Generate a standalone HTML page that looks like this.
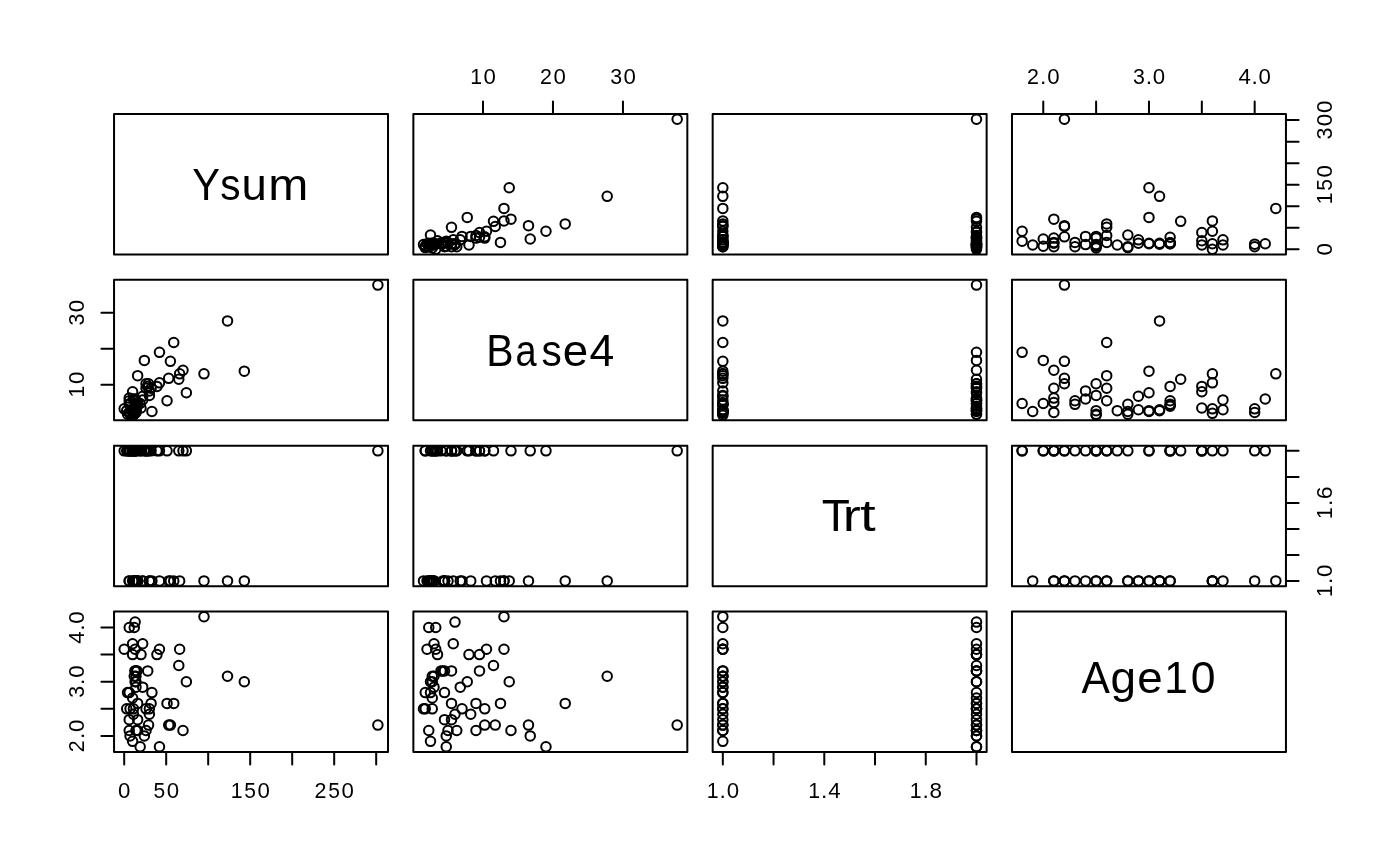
<!DOCTYPE html>
<html><head><meta charset="utf-8"><title>pairs</title>
<style>
html,body{margin:0;padding:0;background:#fff;width:1400px;height:866px;overflow:hidden}
svg{display:block;will-change:transform}
text{font-family:"Liberation Sans",sans-serif;fill:#000;font-kerning:none}
rect{fill:none;stroke:#000;stroke-width:2;stroke-linejoin:round}
.p{fill:none;stroke:#000;stroke-width:2}
.t{fill:none;stroke:#000;stroke-width:2;stroke-linecap:round}
</style></head><body>
<svg width="1400" height="866" viewBox="0 0 1400 866">
<rect x="114.05" y="114.05" width="273.97" height="140.47"/>
<rect x="413.36" y="114.05" width="273.97" height="140.47"/>
<rect x="712.67" y="114.05" width="273.97" height="140.47"/>
<rect x="1011.98" y="114.05" width="273.97" height="140.47"/>
<rect x="114.05" y="279.86" width="273.97" height="140.47"/>
<rect x="413.36" y="279.86" width="273.97" height="140.47"/>
<rect x="712.67" y="279.86" width="273.97" height="140.47"/>
<rect x="1011.98" y="279.86" width="273.97" height="140.47"/>
<rect x="114.05" y="445.67" width="273.97" height="140.47"/>
<rect x="413.36" y="445.67" width="273.97" height="140.47"/>
<rect x="712.67" y="445.67" width="273.97" height="140.47"/>
<rect x="1011.98" y="445.67" width="273.97" height="140.47"/>
<rect x="114.05" y="611.48" width="273.97" height="140.47"/>
<rect x="413.36" y="611.48" width="273.97" height="140.47"/>
<rect x="712.67" y="611.48" width="273.97" height="140.47"/>
<rect x="1011.98" y="611.48" width="273.97" height="140.47"/>
<g class="p"><circle cx="432.25" cy="243.28" r="4.752"/><circle cx="432.25" cy="243.28" r="4.752"/><circle cx="423.51" cy="244.58" r="4.752"/><circle cx="427.01" cy="243.71" r="4.752"/><circle cx="528.48" cy="225.63" r="4.752"/><circle cx="460.25" cy="239.84" r="4.752"/><circle cx="434" cy="244.15" r="4.752"/><circle cx="503.98" cy="208.4" r="4.752"/><circle cx="453.25" cy="239.84" r="4.752"/><circle cx="430.5" cy="235.1" r="4.752"/><circle cx="503.98" cy="220.89" r="4.752"/><circle cx="470.74" cy="236.39" r="4.752"/><circle cx="444.5" cy="242.42" r="4.752"/><circle cx="486.49" cy="231.23" r="4.752"/><circle cx="565.21" cy="223.9" r="4.752"/><circle cx="500.48" cy="242.42" r="4.752"/><circle cx="444.5" cy="246.73" r="4.752"/><circle cx="607.2" cy="196.34" r="4.752"/><circle cx="444.5" cy="242.85" r="4.752"/><circle cx="448" cy="242.42" r="4.752"/><circle cx="434" cy="243.28" r="4.752"/><circle cx="428.76" cy="243.28" r="4.752"/><circle cx="442.75" cy="243.71" r="4.752"/><circle cx="462" cy="236.39" r="4.752"/><circle cx="509.23" cy="187.73" r="4.752"/><circle cx="428.76" cy="246.73" r="4.752"/><circle cx="430.5" cy="245.01" r="4.752"/><circle cx="495.24" cy="226.49" r="4.752"/><circle cx="545.97" cy="231.23" r="4.752"/><circle cx="479.49" cy="237.25" r="4.752"/><circle cx="446.25" cy="246.3" r="4.752"/><circle cx="430.5" cy="243.71" r="4.752"/><circle cx="446.25" cy="241.13" r="4.752"/><circle cx="455" cy="244.58" r="4.752"/><circle cx="467.24" cy="217.44" r="4.752"/><circle cx="437.5" cy="240.7" r="4.752"/><circle cx="432.25" cy="245.01" r="4.752"/><circle cx="530.23" cy="238.98" r="4.752"/><circle cx="484.74" cy="236.82" r="4.752"/><circle cx="425.26" cy="247.59" r="4.752"/><circle cx="451.5" cy="246.73" r="4.752"/><circle cx="435.75" cy="244.15" r="4.752"/><circle cx="493.49" cy="221.32" r="4.752"/><circle cx="475.99" cy="238.12" r="4.752"/><circle cx="479.49" cy="232.52" r="4.752"/><circle cx="425.26" cy="246.3" r="4.752"/><circle cx="475.99" cy="235.53" r="4.752"/><circle cx="432.25" cy="248.02" r="4.752"/><circle cx="677.18" cy="119.25" r="4.752"/><circle cx="451.5" cy="243.71" r="4.752"/><circle cx="484.74" cy="238.12" r="4.752"/><circle cx="468.99" cy="245.01" r="4.752"/><circle cx="510.98" cy="219.17" r="4.752"/><circle cx="455" cy="243.71" r="4.752"/><circle cx="441" cy="242.85" r="4.752"/><circle cx="451.5" cy="227.35" r="4.752"/><circle cx="456.75" cy="246.73" r="4.752"/><circle cx="435.75" cy="249.31" r="4.752"/><circle cx="434" cy="245.01" r="4.752"/><circle cx="722.82" cy="243.28" r="4.752"/><circle cx="722.82" cy="243.28" r="4.752"/><circle cx="722.82" cy="244.58" r="4.752"/><circle cx="722.82" cy="243.71" r="4.752"/><circle cx="722.82" cy="225.63" r="4.752"/><circle cx="722.82" cy="239.84" r="4.752"/><circle cx="722.82" cy="244.15" r="4.752"/><circle cx="722.82" cy="208.4" r="4.752"/><circle cx="722.82" cy="239.84" r="4.752"/><circle cx="722.82" cy="235.1" r="4.752"/><circle cx="722.82" cy="220.89" r="4.752"/><circle cx="722.82" cy="236.39" r="4.752"/><circle cx="722.82" cy="242.42" r="4.752"/><circle cx="722.82" cy="231.23" r="4.752"/><circle cx="722.82" cy="223.9" r="4.752"/><circle cx="722.82" cy="242.42" r="4.752"/><circle cx="722.82" cy="246.73" r="4.752"/><circle cx="722.82" cy="196.34" r="4.752"/><circle cx="722.82" cy="242.85" r="4.752"/><circle cx="722.82" cy="242.42" r="4.752"/><circle cx="722.82" cy="243.28" r="4.752"/><circle cx="722.82" cy="243.28" r="4.752"/><circle cx="722.82" cy="243.71" r="4.752"/><circle cx="722.82" cy="236.39" r="4.752"/><circle cx="722.82" cy="187.73" r="4.752"/><circle cx="722.82" cy="246.73" r="4.752"/><circle cx="722.82" cy="245.01" r="4.752"/><circle cx="722.82" cy="226.49" r="4.752"/><circle cx="976.49" cy="231.23" r="4.752"/><circle cx="976.49" cy="237.25" r="4.752"/><circle cx="976.49" cy="246.3" r="4.752"/><circle cx="976.49" cy="243.71" r="4.752"/><circle cx="976.49" cy="241.13" r="4.752"/><circle cx="976.49" cy="244.58" r="4.752"/><circle cx="976.49" cy="217.44" r="4.752"/><circle cx="976.49" cy="240.7" r="4.752"/><circle cx="976.49" cy="245.01" r="4.752"/><circle cx="976.49" cy="238.98" r="4.752"/><circle cx="976.49" cy="236.82" r="4.752"/><circle cx="976.49" cy="247.59" r="4.752"/><circle cx="976.49" cy="246.73" r="4.752"/><circle cx="976.49" cy="244.15" r="4.752"/><circle cx="976.49" cy="221.32" r="4.752"/><circle cx="976.49" cy="238.12" r="4.752"/><circle cx="976.49" cy="232.52" r="4.752"/><circle cx="976.49" cy="246.3" r="4.752"/><circle cx="976.49" cy="235.53" r="4.752"/><circle cx="976.49" cy="248.02" r="4.752"/><circle cx="976.49" cy="119.25" r="4.752"/><circle cx="976.49" cy="243.71" r="4.752"/><circle cx="976.49" cy="238.12" r="4.752"/><circle cx="976.49" cy="245.01" r="4.752"/><circle cx="976.49" cy="219.17" r="4.752"/><circle cx="976.49" cy="243.71" r="4.752"/><circle cx="976.49" cy="242.85" r="4.752"/><circle cx="976.49" cy="227.35" r="4.752"/><circle cx="976.49" cy="246.73" r="4.752"/><circle cx="976.49" cy="249.31" r="4.752"/><circle cx="976.49" cy="245.01" r="4.752"/><circle cx="1159.54" cy="243.28" r="4.752"/><circle cx="1148.97" cy="243.28" r="4.752"/><circle cx="1096.12" cy="244.58" r="4.752"/><circle cx="1212.39" cy="243.71" r="4.752"/><circle cx="1064.41" cy="225.63" r="4.752"/><circle cx="1138.4" cy="239.84" r="4.752"/><circle cx="1159.54" cy="244.15" r="4.752"/><circle cx="1275.81" cy="208.4" r="4.752"/><circle cx="1222.96" cy="239.84" r="4.752"/><circle cx="1127.83" cy="235.1" r="4.752"/><circle cx="1212.39" cy="220.89" r="4.752"/><circle cx="1085.55" cy="236.39" r="4.752"/><circle cx="1074.98" cy="242.42" r="4.752"/><circle cx="1212.39" cy="231.23" r="4.752"/><circle cx="1106.69" cy="223.9" r="4.752"/><circle cx="1106.69" cy="242.42" r="4.752"/><circle cx="1127.83" cy="246.73" r="4.752"/><circle cx="1159.54" cy="196.34" r="4.752"/><circle cx="1170.11" cy="242.85" r="4.752"/><circle cx="1053.84" cy="242.42" r="4.752"/><circle cx="1138.4" cy="243.28" r="4.752"/><circle cx="1053.84" cy="243.28" r="4.752"/><circle cx="1170.11" cy="243.71" r="4.752"/><circle cx="1096.12" cy="236.39" r="4.752"/><circle cx="1148.97" cy="187.73" r="4.752"/><circle cx="1254.67" cy="246.73" r="4.752"/><circle cx="1032.7" cy="245.01" r="4.752"/><circle cx="1064.41" cy="226.49" r="4.752"/><circle cx="1022.13" cy="231.23" r="4.752"/><circle cx="1170.11" cy="237.25" r="4.752"/><circle cx="1043.27" cy="246.3" r="4.752"/><circle cx="1148.97" cy="243.71" r="4.752"/><circle cx="1022.13" cy="241.13" r="4.752"/><circle cx="1085.55" cy="244.58" r="4.752"/><circle cx="1148.97" cy="217.44" r="4.752"/><circle cx="1201.82" cy="240.7" r="4.752"/><circle cx="1117.26" cy="245.01" r="4.752"/><circle cx="1043.27" cy="238.98" r="4.752"/><circle cx="1064.41" cy="236.82" r="4.752"/><circle cx="1127.83" cy="247.59" r="4.752"/><circle cx="1074.98" cy="246.73" r="4.752"/><circle cx="1254.67" cy="244.15" r="4.752"/><circle cx="1180.68" cy="221.32" r="4.752"/><circle cx="1053.84" cy="238.12" r="4.752"/><circle cx="1201.82" cy="232.52" r="4.752"/><circle cx="1096.12" cy="246.3" r="4.752"/><circle cx="1106.69" cy="235.53" r="4.752"/><circle cx="1096.12" cy="248.02" r="4.752"/><circle cx="1064.41" cy="119.25" r="4.752"/><circle cx="1170.11" cy="243.71" r="4.752"/><circle cx="1096.12" cy="238.12" r="4.752"/><circle cx="1201.82" cy="245.01" r="4.752"/><circle cx="1053.84" cy="219.17" r="4.752"/><circle cx="1265.24" cy="243.71" r="4.752"/><circle cx="1170.11" cy="242.85" r="4.752"/><circle cx="1106.69" cy="227.35" r="4.752"/><circle cx="1053.84" cy="246.73" r="4.752"/><circle cx="1212.39" cy="249.31" r="4.752"/><circle cx="1222.96" cy="245.01" r="4.752"/><circle cx="135.95" cy="410.64" r="4.752"/><circle cx="135.95" cy="410.64" r="4.752"/><circle cx="133.43" cy="415.13" r="4.752"/><circle cx="135.11" cy="413.33" r="4.752"/><circle cx="170.39" cy="361.31" r="4.752"/><circle cx="142.67" cy="396.29" r="4.752"/><circle cx="134.27" cy="409.74" r="4.752"/><circle cx="203.99" cy="373.86" r="4.752"/><circle cx="142.67" cy="399.88" r="4.752"/><circle cx="151.91" cy="411.54" r="4.752"/><circle cx="179.63" cy="373.86" r="4.752"/><circle cx="149.39" cy="390.91" r="4.752"/><circle cx="137.63" cy="404.36" r="4.752"/><circle cx="159.47" cy="382.83" r="4.752"/><circle cx="173.75" cy="342.47" r="4.752"/><circle cx="137.63" cy="375.66" r="4.752"/><circle cx="129.23" cy="404.36" r="4.752"/><circle cx="227.51" cy="320.94" r="4.752"/><circle cx="136.79" cy="404.36" r="4.752"/><circle cx="137.63" cy="402.57" r="4.752"/><circle cx="135.95" cy="409.74" r="4.752"/><circle cx="135.95" cy="412.43" r="4.752"/><circle cx="135.11" cy="405.26" r="4.752"/><circle cx="149.39" cy="395.39" r="4.752"/><circle cx="244.31" cy="371.17" r="4.752"/><circle cx="129.23" cy="412.43" r="4.752"/><circle cx="132.59" cy="411.54" r="4.752"/><circle cx="168.71" cy="378.35" r="4.752"/><circle cx="159.47" cy="352.34" r="4.752"/><circle cx="147.71" cy="386.42" r="4.752"/><circle cx="130.07" cy="403.46" r="4.752"/><circle cx="135.11" cy="411.54" r="4.752"/><circle cx="140.15" cy="403.46" r="4.752"/><circle cx="133.43" cy="398.98" r="4.752"/><circle cx="186.35" cy="392.7" r="4.752"/><circle cx="140.99" cy="407.95" r="4.752"/><circle cx="132.59" cy="410.64" r="4.752"/><circle cx="144.35" cy="360.41" r="4.752"/><circle cx="148.55" cy="383.73" r="4.752"/><circle cx="127.55" cy="414.23" r="4.752"/><circle cx="129.23" cy="400.77" r="4.752"/><circle cx="134.27" cy="408.85" r="4.752"/><circle cx="178.79" cy="379.25" r="4.752"/><circle cx="146.03" cy="388.22" r="4.752"/><circle cx="156.95" cy="386.42" r="4.752"/><circle cx="130.07" cy="414.23" r="4.752"/><circle cx="151.07" cy="388.22" r="4.752"/><circle cx="126.71" cy="410.64" r="4.752"/><circle cx="377.87" cy="285.06" r="4.752"/><circle cx="135.11" cy="400.77" r="4.752"/><circle cx="146.03" cy="383.73" r="4.752"/><circle cx="132.59" cy="391.8" r="4.752"/><circle cx="182.99" cy="370.28" r="4.752"/><circle cx="135.11" cy="398.98" r="4.752"/><circle cx="136.79" cy="406.16" r="4.752"/><circle cx="167.03" cy="400.77" r="4.752"/><circle cx="129.23" cy="398.08" r="4.752"/><circle cx="124.19" cy="408.85" r="4.752"/><circle cx="132.59" cy="409.74" r="4.752"/><circle cx="722.82" cy="410.64" r="4.752"/><circle cx="722.82" cy="410.64" r="4.752"/><circle cx="722.82" cy="415.13" r="4.752"/><circle cx="722.82" cy="413.33" r="4.752"/><circle cx="722.82" cy="361.31" r="4.752"/><circle cx="722.82" cy="396.29" r="4.752"/><circle cx="722.82" cy="409.74" r="4.752"/><circle cx="722.82" cy="373.86" r="4.752"/><circle cx="722.82" cy="399.88" r="4.752"/><circle cx="722.82" cy="411.54" r="4.752"/><circle cx="722.82" cy="373.86" r="4.752"/><circle cx="722.82" cy="390.91" r="4.752"/><circle cx="722.82" cy="404.36" r="4.752"/><circle cx="722.82" cy="382.83" r="4.752"/><circle cx="722.82" cy="342.47" r="4.752"/><circle cx="722.82" cy="375.66" r="4.752"/><circle cx="722.82" cy="404.36" r="4.752"/><circle cx="722.82" cy="320.94" r="4.752"/><circle cx="722.82" cy="404.36" r="4.752"/><circle cx="722.82" cy="402.57" r="4.752"/><circle cx="722.82" cy="409.74" r="4.752"/><circle cx="722.82" cy="412.43" r="4.752"/><circle cx="722.82" cy="405.26" r="4.752"/><circle cx="722.82" cy="395.39" r="4.752"/><circle cx="722.82" cy="371.17" r="4.752"/><circle cx="722.82" cy="412.43" r="4.752"/><circle cx="722.82" cy="411.54" r="4.752"/><circle cx="722.82" cy="378.35" r="4.752"/><circle cx="976.49" cy="352.34" r="4.752"/><circle cx="976.49" cy="386.42" r="4.752"/><circle cx="976.49" cy="403.46" r="4.752"/><circle cx="976.49" cy="411.54" r="4.752"/><circle cx="976.49" cy="403.46" r="4.752"/><circle cx="976.49" cy="398.98" r="4.752"/><circle cx="976.49" cy="392.7" r="4.752"/><circle cx="976.49" cy="407.95" r="4.752"/><circle cx="976.49" cy="410.64" r="4.752"/><circle cx="976.49" cy="360.41" r="4.752"/><circle cx="976.49" cy="383.73" r="4.752"/><circle cx="976.49" cy="414.23" r="4.752"/><circle cx="976.49" cy="400.77" r="4.752"/><circle cx="976.49" cy="408.85" r="4.752"/><circle cx="976.49" cy="379.25" r="4.752"/><circle cx="976.49" cy="388.22" r="4.752"/><circle cx="976.49" cy="386.42" r="4.752"/><circle cx="976.49" cy="414.23" r="4.752"/><circle cx="976.49" cy="388.22" r="4.752"/><circle cx="976.49" cy="410.64" r="4.752"/><circle cx="976.49" cy="285.06" r="4.752"/><circle cx="976.49" cy="400.77" r="4.752"/><circle cx="976.49" cy="383.73" r="4.752"/><circle cx="976.49" cy="391.8" r="4.752"/><circle cx="976.49" cy="370.28" r="4.752"/><circle cx="976.49" cy="398.98" r="4.752"/><circle cx="976.49" cy="406.16" r="4.752"/><circle cx="976.49" cy="400.77" r="4.752"/><circle cx="976.49" cy="398.08" r="4.752"/><circle cx="976.49" cy="408.85" r="4.752"/><circle cx="976.49" cy="409.74" r="4.752"/><circle cx="1159.54" cy="410.64" r="4.752"/><circle cx="1148.97" cy="410.64" r="4.752"/><circle cx="1096.12" cy="415.13" r="4.752"/><circle cx="1212.39" cy="413.33" r="4.752"/><circle cx="1064.41" cy="361.31" r="4.752"/><circle cx="1138.4" cy="396.29" r="4.752"/><circle cx="1159.54" cy="409.74" r="4.752"/><circle cx="1275.81" cy="373.86" r="4.752"/><circle cx="1222.96" cy="399.88" r="4.752"/><circle cx="1127.83" cy="411.54" r="4.752"/><circle cx="1212.39" cy="373.86" r="4.752"/><circle cx="1085.55" cy="390.91" r="4.752"/><circle cx="1074.98" cy="404.36" r="4.752"/><circle cx="1212.39" cy="382.83" r="4.752"/><circle cx="1106.69" cy="342.47" r="4.752"/><circle cx="1106.69" cy="375.66" r="4.752"/><circle cx="1127.83" cy="404.36" r="4.752"/><circle cx="1159.54" cy="320.94" r="4.752"/><circle cx="1170.11" cy="404.36" r="4.752"/><circle cx="1053.84" cy="402.57" r="4.752"/><circle cx="1138.4" cy="409.74" r="4.752"/><circle cx="1053.84" cy="412.43" r="4.752"/><circle cx="1170.11" cy="405.26" r="4.752"/><circle cx="1096.12" cy="395.39" r="4.752"/><circle cx="1148.97" cy="371.17" r="4.752"/><circle cx="1254.67" cy="412.43" r="4.752"/><circle cx="1032.7" cy="411.54" r="4.752"/><circle cx="1064.41" cy="378.35" r="4.752"/><circle cx="1022.13" cy="352.34" r="4.752"/><circle cx="1170.11" cy="386.42" r="4.752"/><circle cx="1043.27" cy="403.46" r="4.752"/><circle cx="1148.97" cy="411.54" r="4.752"/><circle cx="1022.13" cy="403.46" r="4.752"/><circle cx="1085.55" cy="398.98" r="4.752"/><circle cx="1148.97" cy="392.7" r="4.752"/><circle cx="1201.82" cy="407.95" r="4.752"/><circle cx="1117.26" cy="410.64" r="4.752"/><circle cx="1043.27" cy="360.41" r="4.752"/><circle cx="1064.41" cy="383.73" r="4.752"/><circle cx="1127.83" cy="414.23" r="4.752"/><circle cx="1074.98" cy="400.77" r="4.752"/><circle cx="1254.67" cy="408.85" r="4.752"/><circle cx="1180.68" cy="379.25" r="4.752"/><circle cx="1053.84" cy="388.22" r="4.752"/><circle cx="1201.82" cy="386.42" r="4.752"/><circle cx="1096.12" cy="414.23" r="4.752"/><circle cx="1106.69" cy="388.22" r="4.752"/><circle cx="1096.12" cy="410.64" r="4.752"/><circle cx="1064.41" cy="285.06" r="4.752"/><circle cx="1170.11" cy="400.77" r="4.752"/><circle cx="1096.12" cy="383.73" r="4.752"/><circle cx="1201.82" cy="391.8" r="4.752"/><circle cx="1053.84" cy="370.28" r="4.752"/><circle cx="1265.24" cy="398.98" r="4.752"/><circle cx="1170.11" cy="406.16" r="4.752"/><circle cx="1106.69" cy="400.77" r="4.752"/><circle cx="1053.84" cy="398.08" r="4.752"/><circle cx="1212.39" cy="408.85" r="4.752"/><circle cx="1222.96" cy="409.74" r="4.752"/><circle cx="135.95" cy="580.94" r="4.752"/><circle cx="135.95" cy="580.94" r="4.752"/><circle cx="133.43" cy="580.94" r="4.752"/><circle cx="135.11" cy="580.94" r="4.752"/><circle cx="170.39" cy="580.94" r="4.752"/><circle cx="142.67" cy="580.94" r="4.752"/><circle cx="134.27" cy="580.94" r="4.752"/><circle cx="203.99" cy="580.94" r="4.752"/><circle cx="142.67" cy="580.94" r="4.752"/><circle cx="151.91" cy="580.94" r="4.752"/><circle cx="179.63" cy="580.94" r="4.752"/><circle cx="149.39" cy="580.94" r="4.752"/><circle cx="137.63" cy="580.94" r="4.752"/><circle cx="159.47" cy="580.94" r="4.752"/><circle cx="173.75" cy="580.94" r="4.752"/><circle cx="137.63" cy="580.94" r="4.752"/><circle cx="129.23" cy="580.94" r="4.752"/><circle cx="227.51" cy="580.94" r="4.752"/><circle cx="136.79" cy="580.94" r="4.752"/><circle cx="137.63" cy="580.94" r="4.752"/><circle cx="135.95" cy="580.94" r="4.752"/><circle cx="135.95" cy="580.94" r="4.752"/><circle cx="135.11" cy="580.94" r="4.752"/><circle cx="149.39" cy="580.94" r="4.752"/><circle cx="244.31" cy="580.94" r="4.752"/><circle cx="129.23" cy="580.94" r="4.752"/><circle cx="132.59" cy="580.94" r="4.752"/><circle cx="168.71" cy="580.94" r="4.752"/><circle cx="159.47" cy="450.87" r="4.752"/><circle cx="147.71" cy="450.87" r="4.752"/><circle cx="130.07" cy="450.87" r="4.752"/><circle cx="135.11" cy="450.87" r="4.752"/><circle cx="140.15" cy="450.87" r="4.752"/><circle cx="133.43" cy="450.87" r="4.752"/><circle cx="186.35" cy="450.87" r="4.752"/><circle cx="140.99" cy="450.87" r="4.752"/><circle cx="132.59" cy="450.87" r="4.752"/><circle cx="144.35" cy="450.87" r="4.752"/><circle cx="148.55" cy="450.87" r="4.752"/><circle cx="127.55" cy="450.87" r="4.752"/><circle cx="129.23" cy="450.87" r="4.752"/><circle cx="134.27" cy="450.87" r="4.752"/><circle cx="178.79" cy="450.87" r="4.752"/><circle cx="146.03" cy="450.87" r="4.752"/><circle cx="156.95" cy="450.87" r="4.752"/><circle cx="130.07" cy="450.87" r="4.752"/><circle cx="151.07" cy="450.87" r="4.752"/><circle cx="126.71" cy="450.87" r="4.752"/><circle cx="377.87" cy="450.87" r="4.752"/><circle cx="135.11" cy="450.87" r="4.752"/><circle cx="146.03" cy="450.87" r="4.752"/><circle cx="132.59" cy="450.87" r="4.752"/><circle cx="182.99" cy="450.87" r="4.752"/><circle cx="135.11" cy="450.87" r="4.752"/><circle cx="136.79" cy="450.87" r="4.752"/><circle cx="167.03" cy="450.87" r="4.752"/><circle cx="129.23" cy="450.87" r="4.752"/><circle cx="124.19" cy="450.87" r="4.752"/><circle cx="132.59" cy="450.87" r="4.752"/><circle cx="432.25" cy="580.94" r="4.752"/><circle cx="432.25" cy="580.94" r="4.752"/><circle cx="423.51" cy="580.94" r="4.752"/><circle cx="427.01" cy="580.94" r="4.752"/><circle cx="528.48" cy="580.94" r="4.752"/><circle cx="460.25" cy="580.94" r="4.752"/><circle cx="434" cy="580.94" r="4.752"/><circle cx="503.98" cy="580.94" r="4.752"/><circle cx="453.25" cy="580.94" r="4.752"/><circle cx="430.5" cy="580.94" r="4.752"/><circle cx="503.98" cy="580.94" r="4.752"/><circle cx="470.74" cy="580.94" r="4.752"/><circle cx="444.5" cy="580.94" r="4.752"/><circle cx="486.49" cy="580.94" r="4.752"/><circle cx="565.21" cy="580.94" r="4.752"/><circle cx="500.48" cy="580.94" r="4.752"/><circle cx="444.5" cy="580.94" r="4.752"/><circle cx="607.2" cy="580.94" r="4.752"/><circle cx="444.5" cy="580.94" r="4.752"/><circle cx="448" cy="580.94" r="4.752"/><circle cx="434" cy="580.94" r="4.752"/><circle cx="428.76" cy="580.94" r="4.752"/><circle cx="442.75" cy="580.94" r="4.752"/><circle cx="462" cy="580.94" r="4.752"/><circle cx="509.23" cy="580.94" r="4.752"/><circle cx="428.76" cy="580.94" r="4.752"/><circle cx="430.5" cy="580.94" r="4.752"/><circle cx="495.24" cy="580.94" r="4.752"/><circle cx="545.97" cy="450.87" r="4.752"/><circle cx="479.49" cy="450.87" r="4.752"/><circle cx="446.25" cy="450.87" r="4.752"/><circle cx="430.5" cy="450.87" r="4.752"/><circle cx="446.25" cy="450.87" r="4.752"/><circle cx="455" cy="450.87" r="4.752"/><circle cx="467.24" cy="450.87" r="4.752"/><circle cx="437.5" cy="450.87" r="4.752"/><circle cx="432.25" cy="450.87" r="4.752"/><circle cx="530.23" cy="450.87" r="4.752"/><circle cx="484.74" cy="450.87" r="4.752"/><circle cx="425.26" cy="450.87" r="4.752"/><circle cx="451.5" cy="450.87" r="4.752"/><circle cx="435.75" cy="450.87" r="4.752"/><circle cx="493.49" cy="450.87" r="4.752"/><circle cx="475.99" cy="450.87" r="4.752"/><circle cx="479.49" cy="450.87" r="4.752"/><circle cx="425.26" cy="450.87" r="4.752"/><circle cx="475.99" cy="450.87" r="4.752"/><circle cx="432.25" cy="450.87" r="4.752"/><circle cx="677.18" cy="450.87" r="4.752"/><circle cx="451.5" cy="450.87" r="4.752"/><circle cx="484.74" cy="450.87" r="4.752"/><circle cx="468.99" cy="450.87" r="4.752"/><circle cx="510.98" cy="450.87" r="4.752"/><circle cx="455" cy="450.87" r="4.752"/><circle cx="441" cy="450.87" r="4.752"/><circle cx="451.5" cy="450.87" r="4.752"/><circle cx="456.75" cy="450.87" r="4.752"/><circle cx="435.75" cy="450.87" r="4.752"/><circle cx="434" cy="450.87" r="4.752"/><circle cx="1159.54" cy="580.94" r="4.752"/><circle cx="1148.97" cy="580.94" r="4.752"/><circle cx="1096.12" cy="580.94" r="4.752"/><circle cx="1212.39" cy="580.94" r="4.752"/><circle cx="1064.41" cy="580.94" r="4.752"/><circle cx="1138.4" cy="580.94" r="4.752"/><circle cx="1159.54" cy="580.94" r="4.752"/><circle cx="1275.81" cy="580.94" r="4.752"/><circle cx="1222.96" cy="580.94" r="4.752"/><circle cx="1127.83" cy="580.94" r="4.752"/><circle cx="1212.39" cy="580.94" r="4.752"/><circle cx="1085.55" cy="580.94" r="4.752"/><circle cx="1074.98" cy="580.94" r="4.752"/><circle cx="1212.39" cy="580.94" r="4.752"/><circle cx="1106.69" cy="580.94" r="4.752"/><circle cx="1106.69" cy="580.94" r="4.752"/><circle cx="1127.83" cy="580.94" r="4.752"/><circle cx="1159.54" cy="580.94" r="4.752"/><circle cx="1170.11" cy="580.94" r="4.752"/><circle cx="1053.84" cy="580.94" r="4.752"/><circle cx="1138.4" cy="580.94" r="4.752"/><circle cx="1053.84" cy="580.94" r="4.752"/><circle cx="1170.11" cy="580.94" r="4.752"/><circle cx="1096.12" cy="580.94" r="4.752"/><circle cx="1148.97" cy="580.94" r="4.752"/><circle cx="1254.67" cy="580.94" r="4.752"/><circle cx="1032.7" cy="580.94" r="4.752"/><circle cx="1064.41" cy="580.94" r="4.752"/><circle cx="1022.13" cy="450.87" r="4.752"/><circle cx="1170.11" cy="450.87" r="4.752"/><circle cx="1043.27" cy="450.87" r="4.752"/><circle cx="1148.97" cy="450.87" r="4.752"/><circle cx="1022.13" cy="450.87" r="4.752"/><circle cx="1085.55" cy="450.87" r="4.752"/><circle cx="1148.97" cy="450.87" r="4.752"/><circle cx="1201.82" cy="450.87" r="4.752"/><circle cx="1117.26" cy="450.87" r="4.752"/><circle cx="1043.27" cy="450.87" r="4.752"/><circle cx="1064.41" cy="450.87" r="4.752"/><circle cx="1127.83" cy="450.87" r="4.752"/><circle cx="1074.98" cy="450.87" r="4.752"/><circle cx="1254.67" cy="450.87" r="4.752"/><circle cx="1180.68" cy="450.87" r="4.752"/><circle cx="1053.84" cy="450.87" r="4.752"/><circle cx="1201.82" cy="450.87" r="4.752"/><circle cx="1096.12" cy="450.87" r="4.752"/><circle cx="1106.69" cy="450.87" r="4.752"/><circle cx="1096.12" cy="450.87" r="4.752"/><circle cx="1064.41" cy="450.87" r="4.752"/><circle cx="1170.11" cy="450.87" r="4.752"/><circle cx="1096.12" cy="450.87" r="4.752"/><circle cx="1201.82" cy="450.87" r="4.752"/><circle cx="1053.84" cy="450.87" r="4.752"/><circle cx="1265.24" cy="450.87" r="4.752"/><circle cx="1170.11" cy="450.87" r="4.752"/><circle cx="1106.69" cy="450.87" r="4.752"/><circle cx="1053.84" cy="450.87" r="4.752"/><circle cx="1212.39" cy="450.87" r="4.752"/><circle cx="1222.96" cy="450.87" r="4.752"/><circle cx="135.95" cy="676.3" r="4.752"/><circle cx="135.95" cy="681.72" r="4.752"/><circle cx="133.43" cy="708.81" r="4.752"/><circle cx="135.11" cy="649.2" r="4.752"/><circle cx="170.39" cy="725.07" r="4.752"/><circle cx="142.67" cy="687.14" r="4.752"/><circle cx="134.27" cy="676.3" r="4.752"/><circle cx="203.99" cy="616.69" r="4.752"/><circle cx="142.67" cy="643.78" r="4.752"/><circle cx="151.91" cy="692.56" r="4.752"/><circle cx="179.63" cy="649.2" r="4.752"/><circle cx="149.39" cy="714.23" r="4.752"/><circle cx="137.63" cy="719.65" r="4.752"/><circle cx="159.47" cy="649.2" r="4.752"/><circle cx="173.75" cy="703.4" r="4.752"/><circle cx="137.63" cy="703.4" r="4.752"/><circle cx="129.23" cy="692.56" r="4.752"/><circle cx="227.51" cy="676.3" r="4.752"/><circle cx="136.79" cy="670.88" r="4.752"/><circle cx="137.63" cy="730.49" r="4.752"/><circle cx="135.95" cy="687.14" r="4.752"/><circle cx="135.95" cy="730.49" r="4.752"/><circle cx="135.11" cy="670.88" r="4.752"/><circle cx="149.39" cy="708.81" r="4.752"/><circle cx="244.31" cy="681.72" r="4.752"/><circle cx="129.23" cy="627.53" r="4.752"/><circle cx="132.59" cy="741.33" r="4.752"/><circle cx="168.71" cy="725.07" r="4.752"/><circle cx="159.47" cy="746.75" r="4.752"/><circle cx="147.71" cy="670.88" r="4.752"/><circle cx="130.07" cy="735.91" r="4.752"/><circle cx="135.11" cy="681.72" r="4.752"/><circle cx="140.15" cy="746.75" r="4.752"/><circle cx="133.43" cy="714.23" r="4.752"/><circle cx="186.35" cy="681.72" r="4.752"/><circle cx="140.99" cy="654.62" r="4.752"/><circle cx="132.59" cy="697.98" r="4.752"/><circle cx="144.35" cy="735.91" r="4.752"/><circle cx="148.55" cy="725.07" r="4.752"/><circle cx="127.55" cy="692.56" r="4.752"/><circle cx="129.23" cy="719.65" r="4.752"/><circle cx="134.27" cy="627.53" r="4.752"/><circle cx="178.79" cy="665.46" r="4.752"/><circle cx="146.03" cy="730.49" r="4.752"/><circle cx="156.95" cy="654.62" r="4.752"/><circle cx="130.07" cy="708.81" r="4.752"/><circle cx="151.07" cy="703.4" r="4.752"/><circle cx="126.71" cy="708.81" r="4.752"/><circle cx="377.87" cy="725.07" r="4.752"/><circle cx="135.11" cy="670.88" r="4.752"/><circle cx="146.03" cy="708.81" r="4.752"/><circle cx="132.59" cy="654.62" r="4.752"/><circle cx="182.99" cy="730.49" r="4.752"/><circle cx="135.11" cy="622.11" r="4.752"/><circle cx="136.79" cy="670.88" r="4.752"/><circle cx="167.03" cy="703.4" r="4.752"/><circle cx="129.23" cy="730.49" r="4.752"/><circle cx="124.19" cy="649.2" r="4.752"/><circle cx="132.59" cy="643.78" r="4.752"/><circle cx="432.25" cy="676.3" r="4.752"/><circle cx="432.25" cy="681.72" r="4.752"/><circle cx="423.51" cy="708.81" r="4.752"/><circle cx="427.01" cy="649.2" r="4.752"/><circle cx="528.48" cy="725.07" r="4.752"/><circle cx="460.25" cy="687.14" r="4.752"/><circle cx="434" cy="676.3" r="4.752"/><circle cx="503.98" cy="616.69" r="4.752"/><circle cx="453.25" cy="643.78" r="4.752"/><circle cx="430.5" cy="692.56" r="4.752"/><circle cx="503.98" cy="649.2" r="4.752"/><circle cx="470.74" cy="714.23" r="4.752"/><circle cx="444.5" cy="719.65" r="4.752"/><circle cx="486.49" cy="649.2" r="4.752"/><circle cx="565.21" cy="703.4" r="4.752"/><circle cx="500.48" cy="703.4" r="4.752"/><circle cx="444.5" cy="692.56" r="4.752"/><circle cx="607.2" cy="676.3" r="4.752"/><circle cx="444.5" cy="670.88" r="4.752"/><circle cx="448" cy="730.49" r="4.752"/><circle cx="434" cy="687.14" r="4.752"/><circle cx="428.76" cy="730.49" r="4.752"/><circle cx="442.75" cy="670.88" r="4.752"/><circle cx="462" cy="708.81" r="4.752"/><circle cx="509.23" cy="681.72" r="4.752"/><circle cx="428.76" cy="627.53" r="4.752"/><circle cx="430.5" cy="741.33" r="4.752"/><circle cx="495.24" cy="725.07" r="4.752"/><circle cx="545.97" cy="746.75" r="4.752"/><circle cx="479.49" cy="670.88" r="4.752"/><circle cx="446.25" cy="735.91" r="4.752"/><circle cx="430.5" cy="681.72" r="4.752"/><circle cx="446.25" cy="746.75" r="4.752"/><circle cx="455" cy="714.23" r="4.752"/><circle cx="467.24" cy="681.72" r="4.752"/><circle cx="437.5" cy="654.62" r="4.752"/><circle cx="432.25" cy="697.98" r="4.752"/><circle cx="530.23" cy="735.91" r="4.752"/><circle cx="484.74" cy="725.07" r="4.752"/><circle cx="425.26" cy="692.56" r="4.752"/><circle cx="451.5" cy="719.65" r="4.752"/><circle cx="435.75" cy="627.53" r="4.752"/><circle cx="493.49" cy="665.46" r="4.752"/><circle cx="475.99" cy="730.49" r="4.752"/><circle cx="479.49" cy="654.62" r="4.752"/><circle cx="425.26" cy="708.81" r="4.752"/><circle cx="475.99" cy="703.4" r="4.752"/><circle cx="432.25" cy="708.81" r="4.752"/><circle cx="677.18" cy="725.07" r="4.752"/><circle cx="451.5" cy="670.88" r="4.752"/><circle cx="484.74" cy="708.81" r="4.752"/><circle cx="468.99" cy="654.62" r="4.752"/><circle cx="510.98" cy="730.49" r="4.752"/><circle cx="455" cy="622.11" r="4.752"/><circle cx="441" cy="670.88" r="4.752"/><circle cx="451.5" cy="703.4" r="4.752"/><circle cx="456.75" cy="730.49" r="4.752"/><circle cx="435.75" cy="649.2" r="4.752"/><circle cx="434" cy="643.78" r="4.752"/><circle cx="722.82" cy="676.3" r="4.752"/><circle cx="722.82" cy="681.72" r="4.752"/><circle cx="722.82" cy="708.81" r="4.752"/><circle cx="722.82" cy="649.2" r="4.752"/><circle cx="722.82" cy="725.07" r="4.752"/><circle cx="722.82" cy="687.14" r="4.752"/><circle cx="722.82" cy="676.3" r="4.752"/><circle cx="722.82" cy="616.69" r="4.752"/><circle cx="722.82" cy="643.78" r="4.752"/><circle cx="722.82" cy="692.56" r="4.752"/><circle cx="722.82" cy="649.2" r="4.752"/><circle cx="722.82" cy="714.23" r="4.752"/><circle cx="722.82" cy="719.65" r="4.752"/><circle cx="722.82" cy="649.2" r="4.752"/><circle cx="722.82" cy="703.4" r="4.752"/><circle cx="722.82" cy="703.4" r="4.752"/><circle cx="722.82" cy="692.56" r="4.752"/><circle cx="722.82" cy="676.3" r="4.752"/><circle cx="722.82" cy="670.88" r="4.752"/><circle cx="722.82" cy="730.49" r="4.752"/><circle cx="722.82" cy="687.14" r="4.752"/><circle cx="722.82" cy="730.49" r="4.752"/><circle cx="722.82" cy="670.88" r="4.752"/><circle cx="722.82" cy="708.81" r="4.752"/><circle cx="722.82" cy="681.72" r="4.752"/><circle cx="722.82" cy="627.53" r="4.752"/><circle cx="722.82" cy="741.33" r="4.752"/><circle cx="722.82" cy="725.07" r="4.752"/><circle cx="976.49" cy="746.75" r="4.752"/><circle cx="976.49" cy="670.88" r="4.752"/><circle cx="976.49" cy="735.91" r="4.752"/><circle cx="976.49" cy="681.72" r="4.752"/><circle cx="976.49" cy="746.75" r="4.752"/><circle cx="976.49" cy="714.23" r="4.752"/><circle cx="976.49" cy="681.72" r="4.752"/><circle cx="976.49" cy="654.62" r="4.752"/><circle cx="976.49" cy="697.98" r="4.752"/><circle cx="976.49" cy="735.91" r="4.752"/><circle cx="976.49" cy="725.07" r="4.752"/><circle cx="976.49" cy="692.56" r="4.752"/><circle cx="976.49" cy="719.65" r="4.752"/><circle cx="976.49" cy="627.53" r="4.752"/><circle cx="976.49" cy="665.46" r="4.752"/><circle cx="976.49" cy="730.49" r="4.752"/><circle cx="976.49" cy="654.62" r="4.752"/><circle cx="976.49" cy="708.81" r="4.752"/><circle cx="976.49" cy="703.4" r="4.752"/><circle cx="976.49" cy="708.81" r="4.752"/><circle cx="976.49" cy="725.07" r="4.752"/><circle cx="976.49" cy="670.88" r="4.752"/><circle cx="976.49" cy="708.81" r="4.752"/><circle cx="976.49" cy="654.62" r="4.752"/><circle cx="976.49" cy="730.49" r="4.752"/><circle cx="976.49" cy="622.11" r="4.752"/><circle cx="976.49" cy="670.88" r="4.752"/><circle cx="976.49" cy="703.4" r="4.752"/><circle cx="976.49" cy="730.49" r="4.752"/><circle cx="976.49" cy="649.2" r="4.752"/><circle cx="976.49" cy="643.78" r="4.752"/></g>
<text y="199.8" font-size="44.76"><tspan x="192.17" textLength="27.8" lengthAdjust="spacingAndGlyphs">Y</tspan><tspan x="220.13" textLength="20.24" lengthAdjust="spacingAndGlyphs">s</tspan><tspan x="241.61" textLength="25.33" lengthAdjust="spacingAndGlyphs">u</tspan><tspan x="268.39" textLength="40.09" lengthAdjust="spacingAndGlyphs">m</tspan></text>
<text y="365.8" font-size="44.76"><tspan x="486.26" textLength="27.37" lengthAdjust="spacingAndGlyphs">B</tspan><tspan x="515.38" textLength="21.12" lengthAdjust="spacingAndGlyphs">a</tspan><tspan x="541.5" textLength="20.24" lengthAdjust="spacingAndGlyphs">s</tspan><tspan x="562.74" textLength="25.37" lengthAdjust="spacingAndGlyphs">e</tspan><tspan x="589.38" textLength="24.77" lengthAdjust="spacingAndGlyphs">4</tspan></text>
<text y="531.1" font-size="44.76"><tspan x="821.74" textLength="28.14" lengthAdjust="spacingAndGlyphs">T</tspan><tspan x="842.73" textLength="18.02" lengthAdjust="spacingAndGlyphs">r</tspan><tspan x="860.13" textLength="15.68" lengthAdjust="spacingAndGlyphs">t</tspan></text>
<text y="693" font-size="44.76"><tspan x="1081.49" textLength="28.38" lengthAdjust="spacingAndGlyphs">A</tspan><tspan x="1110.54" textLength="25.53" lengthAdjust="spacingAndGlyphs">g</tspan><tspan x="1137.35" textLength="25.37" lengthAdjust="spacingAndGlyphs">e</tspan><tspan x="1164.34" textLength="23.65" lengthAdjust="spacingAndGlyphs">1</tspan><tspan x="1190.86" textLength="24.76" lengthAdjust="spacingAndGlyphs">0</tspan></text>
<text y="83.64" font-size="22.38"><tspan x="470.25" textLength="11.83" lengthAdjust="spacingAndGlyphs">1</tspan><tspan x="483.51" textLength="12.38" lengthAdjust="spacingAndGlyphs">0</tspan></text>
<text y="83.64" font-size="22.38"><tspan x="540" textLength="11.93" lengthAdjust="spacingAndGlyphs">2</tspan><tspan x="553.49" textLength="12.38" lengthAdjust="spacingAndGlyphs">0</tspan></text>
<text y="83.64" font-size="22.38"><tspan x="610.3" textLength="11.89" lengthAdjust="spacingAndGlyphs">3</tspan><tspan x="623.47" textLength="12.38" lengthAdjust="spacingAndGlyphs">0</tspan></text>
<text y="83.64" font-size="22.38"><tspan x="1026.94" textLength="11.93" lengthAdjust="spacingAndGlyphs">2</tspan><tspan x="1040.09" textLength="6.35" lengthAdjust="spacingAndGlyphs">.</tspan><tspan x="1047.15" textLength="12.38" lengthAdjust="spacingAndGlyphs">0</tspan></text>
<text y="83.64" font-size="22.38"><tspan x="1132.97" textLength="11.89" lengthAdjust="spacingAndGlyphs">3</tspan><tspan x="1145.78" textLength="6.35" lengthAdjust="spacingAndGlyphs">.</tspan><tspan x="1152.85" textLength="12.38" lengthAdjust="spacingAndGlyphs">0</tspan></text>
<text y="83.64" font-size="22.38"><tspan x="1238.39" textLength="12.38" lengthAdjust="spacingAndGlyphs">4</tspan><tspan x="1251.48" textLength="6.35" lengthAdjust="spacingAndGlyphs">.</tspan><tspan x="1258.54" textLength="12.38" lengthAdjust="spacingAndGlyphs">0</tspan></text>
<text y="797.57" font-size="22.38"><tspan x="118" textLength="12.38" lengthAdjust="spacingAndGlyphs">0</tspan></text>
<text y="797.57" font-size="22.38"><tspan x="153.54" textLength="11.69" lengthAdjust="spacingAndGlyphs">5</tspan><tspan x="166.72" textLength="12.38" lengthAdjust="spacingAndGlyphs">0</tspan></text>
<text y="797.57" font-size="22.38"><tspan x="230.74" textLength="11.83" lengthAdjust="spacingAndGlyphs">1</tspan><tspan x="244.26" textLength="11.69" lengthAdjust="spacingAndGlyphs">5</tspan><tspan x="257.43" textLength="12.38" lengthAdjust="spacingAndGlyphs">0</tspan></text>
<text y="797.57" font-size="22.38"><tspan x="314.5" textLength="11.93" lengthAdjust="spacingAndGlyphs">2</tspan><tspan x="328.26" textLength="11.69" lengthAdjust="spacingAndGlyphs">5</tspan><tspan x="341.43" textLength="12.38" lengthAdjust="spacingAndGlyphs">0</tspan></text>
<text y="797.57" font-size="22.38"><tspan x="706.73" textLength="11.83" lengthAdjust="spacingAndGlyphs">1</tspan><tspan x="719.63" textLength="6.35" lengthAdjust="spacingAndGlyphs">.</tspan><tspan x="726.7" textLength="12.38" lengthAdjust="spacingAndGlyphs">0</tspan></text>
<text y="797.57" font-size="22.38"><tspan x="808.2" textLength="11.83" lengthAdjust="spacingAndGlyphs">1</tspan><tspan x="821.1" textLength="6.35" lengthAdjust="spacingAndGlyphs">.</tspan><tspan x="828.17" textLength="12.38" lengthAdjust="spacingAndGlyphs">4</tspan></text>
<text y="797.57" font-size="22.38"><tspan x="909.66" textLength="11.83" lengthAdjust="spacingAndGlyphs">1</tspan><tspan x="922.57" textLength="6.35" lengthAdjust="spacingAndGlyphs">.</tspan><tspan x="929.57" textLength="12.52" lengthAdjust="spacingAndGlyphs">8</tspan></text>
<text transform="matrix(0,-1,1,0,83.64,398.07)" font-size="22.38"><tspan x="0.7" textLength="11.83" lengthAdjust="spacingAndGlyphs">1</tspan><tspan x="13.96" textLength="12.38" lengthAdjust="spacingAndGlyphs">0</tspan></text>
<text transform="matrix(0,-1,1,0,83.64,326.31)" font-size="22.38"><tspan x="0.79" textLength="11.89" lengthAdjust="spacingAndGlyphs">3</tspan><tspan x="13.96" textLength="12.38" lengthAdjust="spacingAndGlyphs">0</tspan></text>
<text transform="matrix(0,-1,1,0,83.64,752.7)" font-size="22.38"><tspan x="0.47" textLength="11.93" lengthAdjust="spacingAndGlyphs">2</tspan><tspan x="13.61" textLength="6.35" lengthAdjust="spacingAndGlyphs">.</tspan><tspan x="20.67" textLength="12.38" lengthAdjust="spacingAndGlyphs">0</tspan></text>
<text transform="matrix(0,-1,1,0,83.64,698.51)" font-size="22.38"><tspan x="0.79" textLength="11.89" lengthAdjust="spacingAndGlyphs">3</tspan><tspan x="13.61" textLength="6.35" lengthAdjust="spacingAndGlyphs">.</tspan><tspan x="20.67" textLength="12.38" lengthAdjust="spacingAndGlyphs">0</tspan></text>
<text transform="matrix(0,-1,1,0,83.64,644.32)" font-size="22.38"><tspan x="0.52" textLength="12.38" lengthAdjust="spacingAndGlyphs">4</tspan><tspan x="13.61" textLength="6.35" lengthAdjust="spacingAndGlyphs">.</tspan><tspan x="20.67" textLength="12.38" lengthAdjust="spacingAndGlyphs">0</tspan></text>
<text transform="matrix(0,-1,1,0,1331.57,256.03)" font-size="22.38"><tspan x="0.52" textLength="12.38" lengthAdjust="spacingAndGlyphs">0</tspan></text>
<text transform="matrix(0,-1,1,0,1331.57,204.87)" font-size="22.38"><tspan x="0.7" textLength="11.83" lengthAdjust="spacingAndGlyphs">1</tspan><tspan x="14.23" textLength="11.69" lengthAdjust="spacingAndGlyphs">5</tspan><tspan x="27.4" textLength="12.38" lengthAdjust="spacingAndGlyphs">0</tspan></text>
<text transform="matrix(0,-1,1,0,1331.57,140.27)" font-size="22.38"><tspan x="0.79" textLength="11.89" lengthAdjust="spacingAndGlyphs">3</tspan><tspan x="13.96" textLength="12.38" lengthAdjust="spacingAndGlyphs">0</tspan><tspan x="27.4" textLength="12.38" lengthAdjust="spacingAndGlyphs">0</tspan></text>
<text transform="matrix(0,-1,1,0,1331.57,597.73)" font-size="22.38"><tspan x="0.7" textLength="11.83" lengthAdjust="spacingAndGlyphs">1</tspan><tspan x="13.61" textLength="6.35" lengthAdjust="spacingAndGlyphs">.</tspan><tspan x="20.67" textLength="12.38" lengthAdjust="spacingAndGlyphs">0</tspan></text>
<text transform="matrix(0,-1,1,0,1331.57,519.69)" font-size="22.38"><tspan x="0.7" textLength="11.83" lengthAdjust="spacingAndGlyphs">1</tspan><tspan x="13.61" textLength="6.35" lengthAdjust="spacingAndGlyphs">.</tspan><tspan x="20.46" textLength="12.81" lengthAdjust="spacingAndGlyphs">6</tspan></text>
<path class="t" d="M482.99 114.05V101.38M552.97 114.05V101.38M622.95 114.05V101.38M1043.27 114.05V101.38M1096.12 114.05V101.38M1148.97 114.05V101.38M1201.82 114.05V101.38M1254.67 114.05V101.38M124.19 751.95V764.62M166.19 751.95V764.62M208.19 751.95V764.62M250.19 751.95V764.62M292.19 751.95V764.62M334.19 751.95V764.62M376.19 751.95V764.62M722.82 751.95V764.62M773.55 751.95V764.62M824.29 751.95V764.62M875.02 751.95V764.62M925.76 751.95V764.62M976.49 751.95V764.62M114.05 384.63H101.38M114.05 348.75H101.38M114.05 312.87H101.38M114.05 735.91H101.38M114.05 708.81H101.38M114.05 681.72H101.38M114.05 654.62H101.38M114.05 627.53H101.38M1285.95 249.31H1298.62M1285.95 227.78H1298.62M1285.95 206.25H1298.62M1285.95 184.71H1298.62M1285.95 163.18H1298.62M1285.95 141.65H1298.62M1285.95 120.11H1298.62M1285.95 580.94H1298.62M1285.95 554.92H1298.62M1285.95 528.91H1298.62M1285.95 502.9H1298.62M1285.95 476.89H1298.62M1285.95 450.87H1298.62"/>
</svg>
</body></html>
